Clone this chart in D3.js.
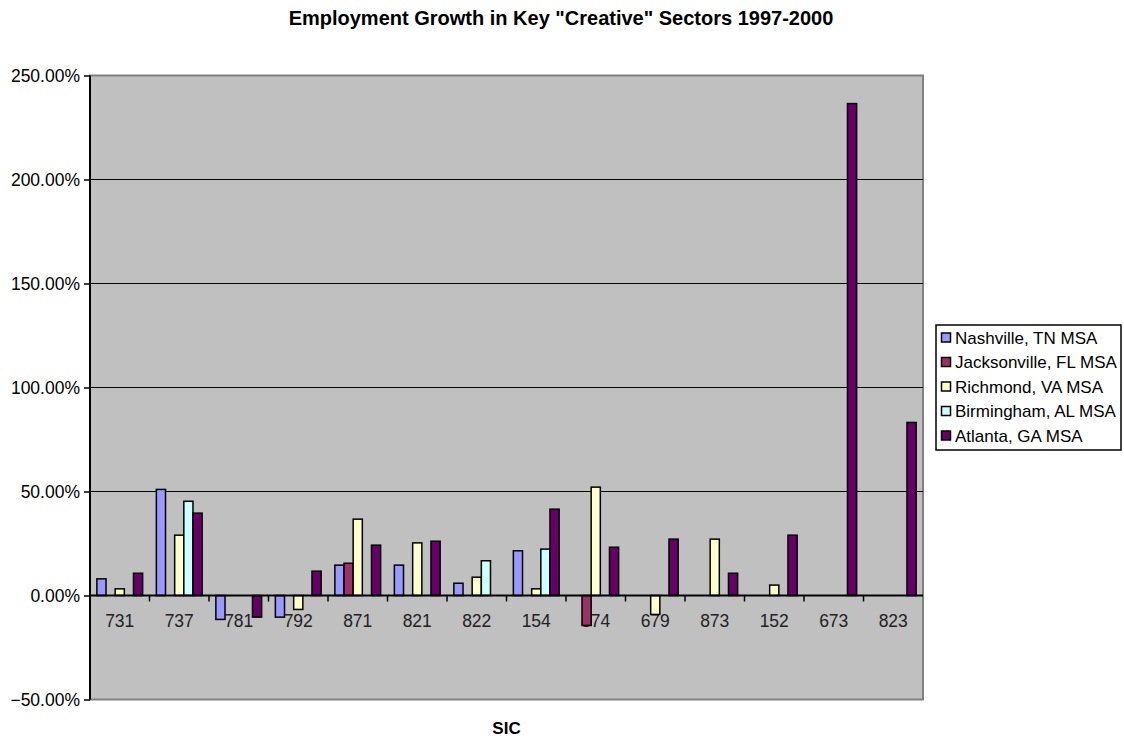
<!DOCTYPE html>
<html>
<head>
<meta charset="utf-8">
<script src="https://cdn.jsdelivr.net/npm/d3@7/dist/d3.min.js"></script>
<style>
  html, body { margin: 0; padding: 0; background: #ffffff; }
  svg { display: block; font-family: Arial, "Liberation Sans", sans-serif; }
</style>
</head>
<body>
<svg id="chart" width="1124" height="740"></svg>
<script>
// SIC industry codes along the x axis
const categories = ["731", "737", "781", "792", "871", "821", "822", "154", "874", "679", "873", "152", "673", "823"];

// Employment growth 1997-2000, in percent (null = no value)
const nashville    = [8.0, 51.0, -11.5, -10.4, 14.6, 14.6, 5.9, 21.5, null, null, null, null, null, null];
const jacksonville = [null, null, null, null, 15.5, null, null, null, -14.4, null, null, null, null, null];
const richmond     = [3.2, 29.0, null, -6.7, 36.7, 25.3, 8.8, 3.2, 52.1, -9.1, 27.1, 5.0, null, null];
const birmingham   = [null, 45.3, null, null, null, null, 16.7, 22.3, null, null, null, null, null, null];
const atlanta      = [10.7, 39.6, -10.4, 11.7, 24.2, 26.1, null, 41.5, 23.2, 27.1, 10.7, 29.0, 236.5, 83.2];

const seriesNames  = ["Nashville, TN MSA", "Jacksonville, FL MSA", "Richmond, VA MSA", "Birmingham, AL MSA", "Atlanta, GA MSA"];
const seriesColors = ["#9999FF", "#993366", "#FFFFCC", "#CCFFFF", "#660066"];
const yTicks = [-50, 0, 50, 100, 150, 200, 250];

const series = [nashville, jacksonville, richmond, birmingham, atlanta].map((vals, i) => ({
  name: seriesNames[i], color: seriesColors[i], values: vals
}));

const svg = d3.select("#chart");
const plot = { left: 90, right: 923, top: 75.5, bottom: 699.5 };

const x = d3.scaleBand().domain(categories).range([plot.left, plot.right]).paddingInner(0).paddingOuter(0);
// five bars fill 5/6.5 of each category, the rest is the gap
const gapFrac = 1.5 / 6.5;
const x1 = d3.scaleBand().domain(d3.range(series.length))
  .range([x.bandwidth() * gapFrac / 2, x.bandwidth() * (1 - gapFrac / 2)]);
const y = d3.scaleLinear().domain([-50, 250]).range([plot.bottom, plot.top]);

// plot area
svg.append("rect")
  .attr("x", plot.left).attr("y", plot.top)
  .attr("width", plot.right - plot.left).attr("height", plot.bottom - plot.top)
  .attr("fill", "#C0C0C0").attr("stroke", "#808080").attr("stroke-width", 2);

// horizontal gridlines
svg.append("g").selectAll("line")
  .data(yTicks.filter(t => t > -50 && t < 250 && t !== 0))
  .join("line")
  .attr("x1", plot.left).attr("x2", plot.right)
  .attr("y1", d => y(d)).attr("y2", d => y(d))
  .attr("stroke", "#000").attr("stroke-width", 1);

// y axis
const yAxis = d3.axisLeft(y).tickValues(yTicks).tickSize(6).tickPadding(4)
  .tickFormat(d => d3.format(".2f")(d) + "%");
const gy = svg.append("g").attr("transform", `translate(${plot.left},0)`).call(yAxis);
gy.select(".domain").remove();
gy.selectAll(".tick line").attr("stroke", "#000").attr("stroke-width", 1.5);
gy.selectAll(".tick text").attr("font-size", 17.5).attr("fill", "#000")
  .attr("font-family", "Arial, 'Liberation Sans', sans-serif");
svg.append("line")
  .attr("x1", plot.left).attr("x2", plot.left)
  .attr("y1", plot.top).attr("y2", plot.bottom)
  .attr("stroke", "#000").attr("stroke-width", 2);

// x axis at zero: category labels and boundary ticks
const gx = svg.append("g");
gx.selectAll("text").data(categories).join("text")
  .attr("x", d => x(d) + x.bandwidth() / 2)
  .attr("y", y(0) + 31)
  .attr("text-anchor", "middle")
  .attr("font-size", 17.5)
  .attr("fill", "#222")
  .text(d => d);
gx.selectAll("line.tk").data(categories.slice(1)).join("line")
  .attr("class", "tk")
  .attr("x1", d => x(d)).attr("x2", d => x(d))
  .attr("y1", y(0)).attr("y2", y(0) + 6)
  .attr("stroke", "#000").attr("stroke-width", 1.5);

// bars
const bars = svg.append("g");
series.forEach((s, si) => {
  bars.append("g").selectAll("rect")
    .data(categories.map((c, ci) => ({ c, v: s.values[ci] })).filter(d => d.v !== null))
    .join("rect")
    .attr("x", d => x(d.c) + x1(si))
    .attr("y", d => y(Math.max(0, d.v)))
    .attr("width", x1.bandwidth())
    .attr("height", d => Math.abs(y(d.v) - y(0)))
    .attr("fill", s.color)
    .attr("stroke", "#000")
    .attr("stroke-width", 1.5);
});

// zero line
svg.append("line")
  .attr("x1", plot.left).attr("x2", plot.right)
  .attr("y1", y(0)).attr("y2", y(0))
  .attr("stroke", "#000").attr("stroke-width", 2);

// title
svg.append("text")
  .attr("x", 561).attr("y", 25)
  .attr("text-anchor", "middle")
  .attr("font-size", 20).attr("font-weight", "bold")
  .text('Employment Growth in Key "Creative" Sectors 1997-2000');

// x axis title
svg.append("text")
  .attr("x", (plot.left + plot.right) / 2).attr("y", 734)
  .attr("text-anchor", "middle")
  .attr("font-size", 17).attr("font-weight", "bold")
  .text("SIC");

// legend
const legend = svg.append("g").attr("transform", "translate(936,325)");
legend.append("rect")
  .attr("x", 0).attr("y", 0).attr("width", 185).attr("height", 125)
  .attr("fill", "#fff").attr("stroke", "#000").attr("stroke-width", 1.5);
const item = legend.selectAll("g.item").data(series).join("g")
  .attr("class", "item")
  .attr("transform", (d, i) => `translate(0,${12.5 + i * 24.5})`);
item.append("rect")
  .attr("x", 5.5).attr("y", -4.5).attr("width", 9).attr("height", 9)
  .attr("fill", d => d.color).attr("stroke", "#000").attr("stroke-width", 1.5);
item.append("text")
  .attr("x", 19).attr("y", 6)
  .attr("font-size", 17)
  .text(d => d.name);
</script>
</body>
</html>
